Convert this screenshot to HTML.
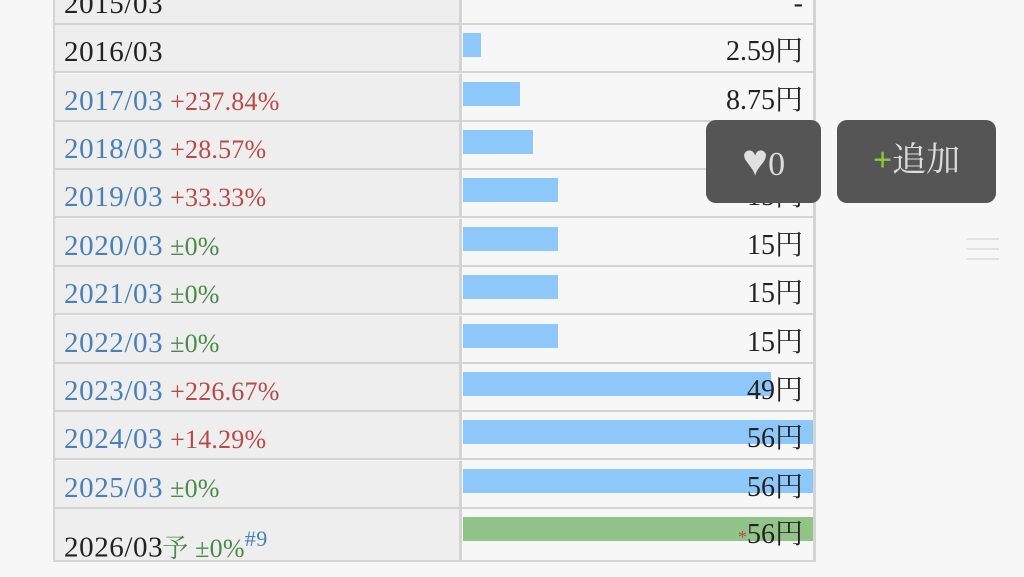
<!DOCTYPE html>
<html><head><meta charset="utf-8"><style>
body{margin:0;width:1024px;height:575px;background:#f7f7f7;overflow:hidden;position:relative;font-family:"Liberation Serif","Noto Serif CJK JP",serif;}
.r{position:absolute;left:55px;width:760px;height:48px;border-bottom:2px solid #d4d4d4;box-sizing:border-box}
.l{position:absolute;left:0;top:0;width:407px;height:100%;background:#eeeeee;border-right:3px solid #d4d4d4;box-sizing:border-box}
.t{position:absolute;left:9px;top:2px;line-height:50px;font-size:29px;color:#222;white-space:nowrap;letter-spacing:0.6px}
.b{color:#4a80b8}.red{color:#b94a48;font-size:26px;margin-left:-1px;letter-spacing:0.2px}.g{color:#4a8a4a;font-size:26px;margin-left:-1px;letter-spacing:0.2px}
.bar{position:absolute;left:408px;top:8px;height:24px;background:#8ec8fa}
.v{position:absolute;right:12px;top:2px;line-height:50px;font-size:28px;color:#222;letter-spacing:0px}
.btn{position:absolute;background:#555;border-radius:10px;color:#ddd;font-size:34px;text-align:center;line-height:82px}
</style></head><body>
<div style="position:absolute;left:53px;top:0;width:3px;height:562px;background:#d4d4d4"></div>
<div style="position:absolute;left:813px;top:0;width:3px;height:562px;background:#d4d4d4"></div>
<div class="r" style="top:-23px"><div class="l"></div><div class="t">2015/03</div><div class="v">-</div></div>
<div class="r" style="top:25px"><div class="l"></div><div class="t">2016/03</div><div class="bar" style="width:18px"></div><div class="v">2.59円</div></div>
<div class="r" style="top:74px"><div class="l"></div><div class="t"><span class="b">2017/03</span> <span class="red">+237.84%</span></div><div class="bar" style="width:57px"></div><div class="v">8.75円</div></div>
<div class="r" style="top:122px"><div class="l"></div><div class="t"><span class="b">2018/03</span> <span class="red">+28.57%</span></div><div class="bar" style="width:70px"></div><div class="v">11.25円</div></div>
<div class="r" style="top:170px"><div class="l"></div><div class="t"><span class="b">2019/03</span> <span class="red">+33.33%</span></div><div class="bar" style="width:95px"></div><div class="v">15円</div></div>
<div class="r" style="top:219px"><div class="l"></div><div class="t"><span class="b">2020/03</span> <span class="g">±0%</span></div><div class="bar" style="width:95px"></div><div class="v">15円</div></div>
<div class="r" style="top:267px"><div class="l"></div><div class="t"><span class="b">2021/03</span> <span class="g">±0%</span></div><div class="bar" style="width:95px"></div><div class="v">15円</div></div>
<div class="r" style="top:316px"><div class="l"></div><div class="t"><span class="b">2022/03</span> <span class="g">±0%</span></div><div class="bar" style="width:95px"></div><div class="v">15円</div></div>
<div class="r" style="top:364px"><div class="l"></div><div class="t"><span class="b">2023/03</span> <span class="red">+226.67%</span></div><div class="bar" style="width:308px"></div><div class="v">49円</div></div>
<div class="r" style="top:412px"><div class="l"></div><div class="t"><span class="b">2024/03</span> <span class="red">+14.29%</span></div><div class="bar" style="width:350px"></div><div class="v">56円</div></div>
<div class="r" style="top:461px"><div class="l"></div><div class="t"><span class="b">2025/03</span> <span class="g">±0%</span></div><div class="bar" style="width:350px"></div><div class="v">56円</div></div>
<div class="r" style="top:509px;height:53px"><div class="l"></div><div class="t" style="line-height:56px">2026/03<span class="g">予 ±0%</span><sup class="b" style="font-size:22px">#9</sup></div><div class="bar" style="width:350px;background:#92c48a"></div><div class="v" style="line-height:48px"><span style="color:#b94a48;font-size:18px">*</span>56円</div></div>
<div class="btn" style="left:706px;top:120px;width:115px;height:83px"><span style="color:#e0e0e0;font-size:44px">♥</span>0</div>
<div class="btn" style="left:837px;top:120px;width:159px;height:83px"><span style="color:#8cc63f;font-weight:bold">+</span>追加</div>
<div style="position:absolute;left:966px;top:238px;width:33px;height:2px;background:#e2e2e2;box-shadow:0 10px 0 #e2e2e2,0 20px 0 #e2e2e2"></div>
</body></html>
